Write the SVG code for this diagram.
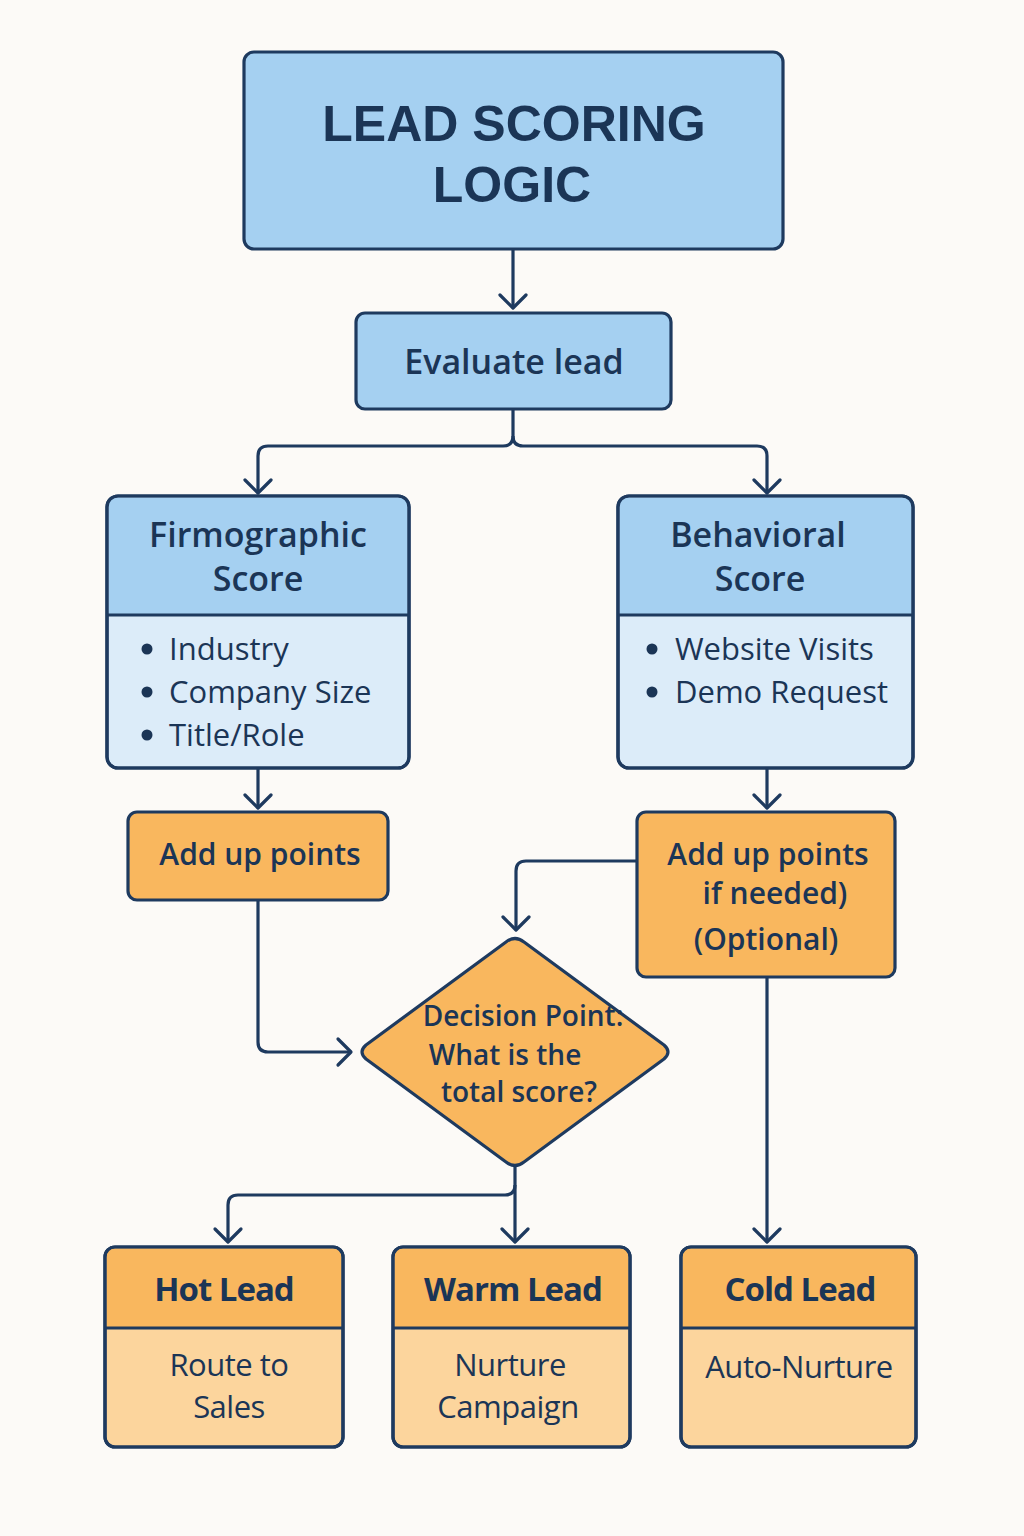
<svg xmlns="http://www.w3.org/2000/svg" width="1024" height="1536" viewBox="0 0 1024 1536">
<defs>
<marker id="arr" markerUnits="userSpaceOnUse" markerWidth="32" markerHeight="32" viewBox="0 0 32 32" refX="28" refY="16" orient="auto">
<path d="M15,3 L28,16 L15,29" fill="none" stroke="#1e3a5f" stroke-width="3.2" stroke-linecap="round" stroke-linejoin="round"/>
</marker>
<style>
.bg{fill:#fcfaf7}
.st{stroke:#1e3a5f;stroke-width:3.2}
.blue{fill:#a5d0f1}
.lblue{fill:#dcecf9}
.org{fill:#f9b75e}
.lorg{fill:#fcd59d}
.none{fill:none}
.t{font-family:"Open Sans","Liberation Sans",sans-serif;fill:#1b3556;text-anchor:middle}
.title{font-family:"Liberation Sans","Open Sans",sans-serif;font-size:50px;font-weight:700}
.h{font-size:34px;font-weight:600}
.b{font-size:31px;font-weight:400;text-anchor:start}
.o{font-size:30px;font-weight:600}
.d{font-size:28px;font-weight:600}
.c{font-size:33px;font-weight:700;letter-spacing:-1px}
.cb{font-size:31px;font-weight:400;letter-spacing:-0.5px}
.conn{fill:none;stroke:#1e3a5f;stroke-width:3.2;marker-end:url(#arr)}
.dot{fill:#1b3556}
</style>
</defs>
<rect class="bg" x="0" y="0" width="1024" height="1536"/>

<g id="connectors">
<path class="conn" d="M513,249 V308"/>
<path class="conn" d="M513,409 V436 Q513,446 503,446 H268 Q258,446 258,456 V493"/>
<path class="conn" d="M513,436 Q513,446 523,446 H757 Q767,446 767,456 V493"/>
<path class="conn" d="M258,768 V808"/>
<path class="conn" d="M767,768 V808"/>
<path class="conn" d="M637,861 H526 Q516,861 516,871 V930"/>
<path class="conn" d="M258,900 V1042 Q258,1052 268,1052 H351"/>
<path class="conn" d="M515,1167 V1242"/>
<path class="conn" d="M515,1185 Q515,1195 505,1195 H238 Q228,1195 228,1205 V1242"/>
<path class="conn" d="M767,977 V1242"/>
</g>

<g id="title">
<rect class="blue st" x="244" y="52" width="539" height="197" rx="10"/>
<text class="t title" x="514" y="141">LEAD SCORING</text>
<text class="t title" x="512" y="202">LOGIC</text>
</g>

<g id="evaluate">
<rect class="blue st" x="356" y="313" width="315" height="96" rx="9"/>
<text class="t h" x="514" y="374">Evaluate lead</text>
</g>

<g id="firmographic">
<rect class="lblue st" x="107" y="496" width="302" height="272" rx="11"/>
<path class="blue" d="M108.6,615 V507 Q108.6,497.6 118,497.6 H398 Q407.4,497.6 407.4,507 V615 Z"/>
<line class="st" x1="107" y1="615" x2="409" y2="615"/>
<rect class="none st" x="107" y="496" width="302" height="272" rx="11"/>
<text class="t h" x="258" y="547">Firmographic</text>
<text class="t h" x="258" y="591">Score</text>
<circle class="dot" cx="147" cy="649" r="5.5"/>
<circle class="dot" cx="147" cy="692" r="5.5"/>
<circle class="dot" cx="147" cy="735" r="5.5"/>
<text class="t b" x="169" y="660">Industry</text>
<text class="t b" x="169" y="703">Company Size</text>
<text class="t b" x="169" y="746">Title/Role</text>
</g>

<g id="behavioral">
<rect class="lblue st" x="618" y="496" width="295" height="272" rx="11"/>
<path class="blue" d="M619.6,615 V507 Q619.6,497.6 629,497.6 H902 Q911.4,497.6 911.4,507 V615 Z"/>
<line class="st" x1="618" y1="615" x2="913" y2="615"/>
<rect class="none st" x="618" y="496" width="295" height="272" rx="11"/>
<text class="t h" x="758" y="547">Behavioral</text>
<text class="t h" x="760" y="591">Score</text>
<circle class="dot" cx="652" cy="649" r="5.5"/>
<circle class="dot" cx="652" cy="692" r="5.5"/>
<text class="t b" x="675" y="660">Website Visits</text>
<text class="t b" x="675" y="703">Demo Request</text>
</g>

<g id="addup1">
<rect class="org st" x="128" y="812" width="260" height="88" rx="9"/>
<text class="t o" x="260" y="865">Add up points</text>
</g>

<g id="addup2">
<rect class="org st" x="637" y="812" width="258" height="165" rx="9"/>
<text class="t o" x="768" y="865">Add up points</text>
<text class="t o" x="775" y="904">if needed)</text>
<text class="t o" x="766" y="950">(Optional)</text>
</g>

<g id="decision">
<path class="org st" stroke-linejoin="round" d="M506,942 Q515,935 524,942 L664,1045 Q672,1052 664,1059 L524,1162 Q515,1169 506,1162 L366,1059 Q358,1052 366,1045 Z"/>
<text class="t d" x="523" y="1026">Decision Point:</text>
<text class="t d" x="505" y="1065">What is the</text>
<text class="t d" x="519" y="1102">total score?</text>
</g>

<g id="hot">
<rect class="lorg st" x="105" y="1247" width="238" height="200" rx="10"/>
<path class="org" d="M106.6,1328 V1257 Q106.6,1248.6 115,1248.6 H333 Q341.4,1248.6 341.4,1257 V1328 Z"/>
<line class="st" x1="105" y1="1328" x2="343" y2="1328"/>
<rect class="none st" x="105" y="1247" width="238" height="200" rx="10"/>
<text class="t c" x="224" y="1301">Hot Lead</text>
<text class="t cb" x="229" y="1376">Route to</text>
<text class="t cb" x="229" y="1418">Sales</text>
</g>

<g id="warm">
<rect class="lorg st" x="393" y="1247" width="237" height="200" rx="10"/>
<path class="org" d="M394.6,1328 V1257 Q394.6,1248.6 403,1248.6 H620 Q628.4,1248.6 628.4,1257 V1328 Z"/>
<line class="st" x1="393" y1="1328" x2="630" y2="1328"/>
<rect class="none st" x="393" y="1247" width="237" height="200" rx="10"/>
<text class="t c" x="513" y="1301">Warm Lead</text>
<text class="t cb" x="510" y="1376">Nurture</text>
<text class="t cb" x="508" y="1418">Campaign</text>
</g>

<g id="cold">
<rect class="lorg st" x="681" y="1247" width="235" height="200" rx="10"/>
<path class="org" d="M682.6,1328 V1257 Q682.6,1248.6 691,1248.6 H906 Q914.4,1248.6 914.4,1257 V1328 Z"/>
<line class="st" x1="681" y1="1328" x2="916" y2="1328"/>
<rect class="none st" x="681" y="1247" width="235" height="200" rx="10"/>
<text class="t c" x="800" y="1301">Cold Lead</text>
<text class="t cb" x="799" y="1378">Auto-Nurture</text>
</g>
</svg>
